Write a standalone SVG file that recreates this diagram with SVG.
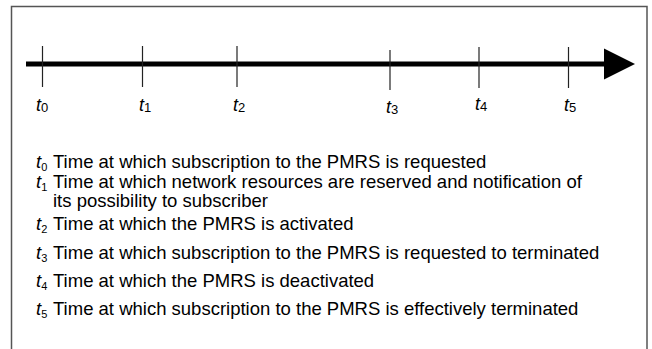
<svg xmlns="http://www.w3.org/2000/svg" width="652" height="349" viewBox="0 0 652 349">
  <style>
    text { font-family: "Liberation Sans", Arial, sans-serif; fill: #000; }
    .lbl { font-size: 18px; }
    .it { font-style: italic; }
    .axsub { font-size: 13px; }
    .legend { font-size: 18.5px; }
    .lsub { font-size: 11px; }
    .tick { stroke: #222; stroke-width: 1.2; }
    .axis { stroke: #000; stroke-width: 5; fill: none; }
    .frame { stroke: #555; stroke-width: 1.5; fill: none; }
  </style>
  <defs>
    <marker id="head" markerUnits="userSpaceOnUse" markerWidth="32" markerHeight="32" refX="0" refY="16" orient="auto" viewBox="0 0 32 32">
      <path d="M0,0.5 L31,16 L0,31.5 Z" fill="#000"/>
    </marker>
  </defs>

  <!-- open frame (bottom edge runs past the page) -->
  <path class="frame" d="M11.5,350 V6.5 H647 V350"/>

  <!-- time axis -->
  <g id="connectors">
    <line class="axis" x1="26" y1="64" x2="604" y2="64" marker-end="url(#head)"/>
  </g>

  <!-- instants on the axis -->
  <g id="t0">
    <line class="tick" x1="42.5" y1="46" x2="42.5" y2="87"/>
    <text class="lbl" x="36" y="111"><tspan class="it">t</tspan><tspan class="axsub" dy="1">0</tspan></text>
  </g>
  <g id="t1">
    <line class="tick" x1="142.5" y1="46" x2="142.5" y2="87"/>
    <text class="lbl" x="139" y="111"><tspan class="it">t</tspan><tspan class="axsub" dy="1">1</tspan></text>
  </g>
  <g id="t2">
    <line class="tick" x1="237" y1="46" x2="237" y2="87"/>
    <text class="lbl" x="233" y="111"><tspan class="it">t</tspan><tspan class="axsub" dy="1">2</tspan></text>
  </g>
  <g id="t3">
    <line class="tick" x1="390" y1="50" x2="390" y2="90"/>
    <text class="lbl" x="386" y="113"><tspan class="it">t</tspan><tspan class="axsub" dy="1">3</tspan></text>
  </g>
  <g id="t4">
    <line class="tick" x1="479" y1="47" x2="479" y2="88"/>
    <text class="lbl" x="475" y="110"><tspan class="it">t</tspan><tspan class="axsub" dy="1">4</tspan></text>
  </g>
  <g id="t5">
    <line class="tick" x1="568.5" y1="47" x2="568.5" y2="88"/>
    <text class="lbl" x="564" y="111"><tspan class="it">t</tspan><tspan class="axsub" dy="1">5</tspan></text>
  </g>

  <!-- legend -->
  <g id="legend" class="legend">
    <text x="36" y="168"><tspan class="it">t</tspan><tspan class="lsub" dy="3">0</tspan><tspan x="53" dy="-3">Time at which subscription to the PMRS is requested</tspan></text>
    <text x="36" y="188"><tspan class="it">t</tspan><tspan class="lsub" dy="3">1</tspan><tspan x="53" dy="-3">Time at which network resources are reserved and notification of</tspan></text>
    <text x="53" y="207">its possibility to subscriber</text>
    <text x="36" y="230"><tspan class="it">t</tspan><tspan class="lsub" dy="3">2</tspan><tspan x="53" dy="-3">Time at which the PMRS is activated</tspan></text>
    <text x="36" y="259"><tspan class="it">t</tspan><tspan class="lsub" dy="3">3</tspan><tspan x="53" dy="-3">Time at which subscription to the PMRS is requested to terminated</tspan></text>
    <text x="36" y="287"><tspan class="it">t</tspan><tspan class="lsub" dy="3">4</tspan><tspan x="53" dy="-3">Time at which the PMRS is deactivated</tspan></text>
    <text x="36" y="315"><tspan class="it">t</tspan><tspan class="lsub" dy="3">5</tspan><tspan x="53" dy="-3">Time at which subscription to the PMRS is effectively terminated</tspan></text>
  </g>
</svg>
